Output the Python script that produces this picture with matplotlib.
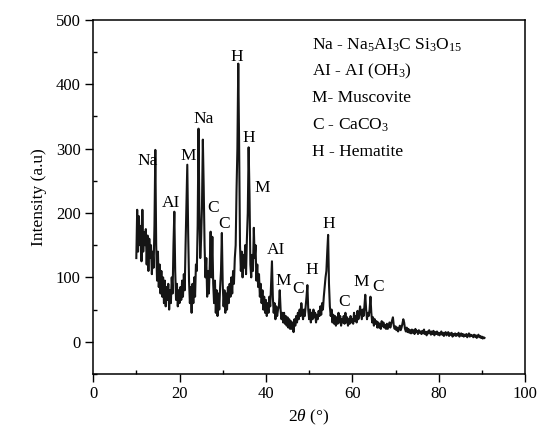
import numpy as np
import matplotlib
matplotlib.use("Agg")
import matplotlib.pyplot as plt
from matplotlib.ticker import MultipleLocator

plt.rcParams["font.family"] = ["Liberation Serif", "DejaVu Serif"]
plt.rcParams["mathtext.fontset"] = "custom"
plt.rcParams["mathtext.rm"] = "Liberation Serif"
plt.rcParams["mathtext.it"] = "Liberation Serif:italic"
plt.rcParams["font.size"] = 12

# ===== DADOS: intensidade a cada 0.2 graus, a partir de 2theta = 10 =====
TWO_THETA_START = 10.0
TWO_THETA_STEP = 0.2

counts_10_20 = [
    130, 205, 140, 195, 150, 180, 125, 205, 140, 170,
    150, 175, 120, 165, 110, 160, 130, 150, 105, 140,
    115, 180, 298, 150, 95, 140, 85, 120, 75, 110,
    70, 100, 60, 95, 55, 85, 65, 90, 50, 80,
    60, 100, 75, 150, 202, 110, 65, 90, 55, 80,
]
counts_20_30 = [
    60, 85, 65, 95, 70, 105, 80, 150, 210, 275,
    170, 95, 60, 85, 45, 90, 60, 100, 70, 120,
    110, 180, 331, 200, 130, 160, 210, 314, 240, 150,
    100, 130, 70, 110, 75, 120, 171, 100, 163, 90,
    60, 95, 45, 80, 40, 75, 50, 85, 110, 169,
]
counts_30_40 = [
    90, 55, 80, 45, 75, 50, 85, 60, 90, 70,
    100, 75, 110, 90, 130, 150, 236, 300, 432, 305,
    150, 110, 140, 100, 135, 115, 150, 105, 160, 200,
    302, 230, 120, 100, 135, 110, 177, 130, 150, 95,
    120, 85, 105, 70, 90, 60, 80, 50, 70, 45,
]
counts_40_50 = [
    65, 40, 60, 45, 70, 55, 90, 125, 70, 45,
    60, 35, 55, 40, 50, 55, 80, 50, 35, 45,
    30, 45, 28, 40, 25, 38, 22, 35, 20, 32,
    20, 30, 15, 35, 25, 40, 30, 45, 35, 50,
    40, 60, 45, 35, 50, 40, 55, 70, 88, 50,
]
counts_50_60 = [
    35, 50, 30, 45, 35, 50, 38, 45, 30, 42,
    35, 48, 40, 55, 42, 60, 50, 70, 85, 100,
    110, 140, 166, 90, 55, 40, 50, 30, 42, 28,
    40, 25, 38, 28, 45, 30, 40, 25, 35, 30,
    40, 28, 45, 30, 38, 25, 35, 28, 40, 30,
]
counts_60_70 = [
    35, 28, 45, 32, 40, 30, 48, 35, 42, 55,
    45, 35, 50, 40, 55, 73, 50, 35, 45, 40,
    50, 70, 45, 30, 38, 25, 35, 28, 32, 22,
    30, 22, 28, 20, 32, 24, 30, 22, 26, 20,
    28, 20, 25, 30, 22, 28, 33, 38, 25, 20,
]
counts_70_80 = [
    24, 18, 22, 16, 20, 25, 18, 22, 28, 35,
    30, 20, 16, 22, 15, 20, 14, 18, 13, 19,
    14, 18, 12, 20, 15, 17, 12, 18, 14, 16,
    12, 17, 13, 19, 12, 15, 10, 16, 13, 18,
    14, 11, 16, 12, 17, 10, 15, 12, 16, 11,
]
counts_80_91 = [
    14, 10, 13, 16, 11, 14, 9, 13, 15, 10,
    12, 15, 9, 13, 11, 14, 8, 12, 10, 13,
    9, 12, 10, 14, 8, 11, 13, 9, 12, 8,
    11, 9, 12, 7, 10, 13, 8, 11, 9, 10,
    7, 11, 8, 10, 6, 9, 11, 7, 9, 6,
    8, 5, 7, 6,
]

# ===== IDENTIFICACAO DOS PICOS (posicao do rotulo) =====
peak_names = ["Na", "AI", "M", "Na", "C", "C", "H", "H", "M",
              "AI", "M", "C", "H", "H", "C", "M", "C"]
peak_label_x = [12.7, 18.1, 22.0, 25.5, 27.8, 30.3, 33.3, 36.1, 39.1,
                42.4, 44.0, 47.5, 50.5, 54.6, 58.1, 62.0, 66.0]
peak_label_y = [280, 216, 289, 346, 207, 183, 443, 317, 239,
                143, 95, 82, 112, 183, 62, 93, 85]

legend_lines = [
    "Na - Na$_5$AI$_3$C Si$_3$O$_{15}$",
    "AI - AI (OH$_3$)",
    "M- Muscovite",
    "C - CaCO$_3$",
    "H - Hematite",
]

intensity = np.array(counts_10_20 + counts_20_30 + counts_30_40 + counts_40_50
                     + counts_50_60 + counts_60_70 + counts_70_80 + counts_80_91)
two_theta = TWO_THETA_START + TWO_THETA_STEP * np.arange(len(intensity))

fig = plt.figure(figsize=(5.51, 4.41), dpi=100)
ax = fig.add_axes([0.169, 0.152, 0.784, 0.803])

ax.plot(two_theta, intensity, color="#151515", lw=1.5)

for name, x, y in zip(peak_names, peak_label_x, peak_label_y):
    ax.text(x, y, name, ha="center", va="center", fontsize=12.5)

for i, line in enumerate(legend_lines):
    ax.text(50.7, 461 - i * 41.5, line, ha="left", va="center", fontsize=12.5)

ax.set_xlim(0, 100)
ax.set_ylim(-50, 500)
ax.xaxis.set_major_locator(MultipleLocator(20))
ax.xaxis.set_minor_locator(MultipleLocator(10))
ax.yaxis.set_major_locator(MultipleLocator(100))
ax.yaxis.set_minor_locator(MultipleLocator(50))
ax.tick_params(which="major", direction="out", length=5.5, width=1.0, labelsize=12)
ax.tick_params(which="minor", direction="in", length=3, width=1.0)
for s in ax.spines.values():
    s.set_linewidth(1.1)

ax.set_xlabel(r"2$\it{\theta}$ (°)", fontsize=12.5, labelpad=4)
ax.set_ylabel("Intensity (a.u)", fontsize=12.5, labelpad=6)

fig.savefig("out.png", dpi=100)
